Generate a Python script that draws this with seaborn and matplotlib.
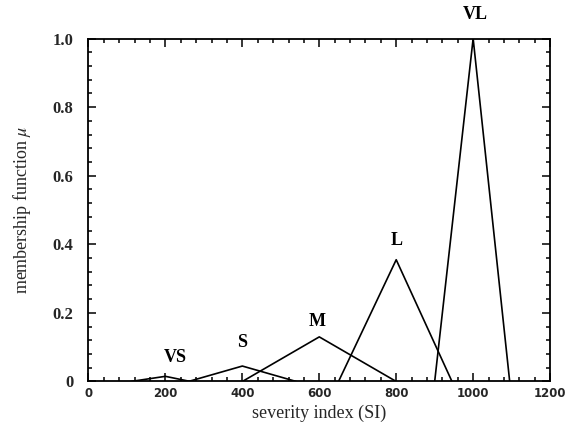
import matplotlib
matplotlib.use("Agg")
import matplotlib.pyplot as plt
from matplotlib.ticker import MultipleLocator, FixedLocator, FixedFormatter
import seaborn as sns
import pandas as pd

# Triangular membership functions of the severity index (SI)
sets = ["VS", "S", "M", "L", "VL"]
vs_x = [110, 200, 265]
vs_mu = [0.0, 0.015, 0.0]
s_x = [260, 400, 540]
s_mu = [0.0, 0.045, 0.0]
m_x = [400, 600, 800]
m_mu = [0.0, 0.13, 0.0]
l_x = [650, 800, 945]
l_mu = [0.0, 0.355, 0.0]
vl_x = [900, 1000, 1095]
vl_mu = [0.0, 1.0, 0.0]

# label anchor positions for each set name
label_x = [225, 400, 595, 800, 1005]
label_y = [0.07, 0.115, 0.175, 0.41, 1.07]

x_ticks = [0, 200, 400, 600, 800, 1000, 1200]
x_tick_labels = ["0", "200", "400", "600", "800", "1000", "1200"]
y_ticks = [0, 0.2, 0.4, 0.6, 0.8, 1.0]
y_tick_labels = ["0", "0.2", "0.4", "0.6", "0.8", "1.0"]

xs = [vs_x, s_x, m_x, l_x, vl_x]
mus = [vs_mu, s_mu, m_mu, l_mu, vl_mu]
df = pd.concat(
    [pd.DataFrame({"SI": x, "mu": mu, "set": name}) for name, x, mu in zip(sets, xs, mus)],
    ignore_index=True,
)

sns.set_style("ticks")
plt.rcParams["font.family"] = ["Liberation Serif", "DejaVu Serif"]
plt.rcParams["mathtext.fontset"] = "stix"

fig = plt.figure(figsize=(5.76, 4.25), dpi=100)
ax = fig.add_axes([0.1536, 0.1024, 0.8014, 0.807])

sns.lineplot(
    data=df, x="SI", y="mu", hue="set", palette=["black"] * len(sets),
    estimator=None, sort=False, legend=False, linewidth=1.2, ax=ax,
)

for name, lx, ly in zip(sets, label_x, label_y):
    ax.text(lx, ly, name, ha="center", va="center", fontsize=13,
            fontweight="bold", color="black", clip_on=False)

ax.set_xlim(0, 1200)
ax.set_ylim(0, 1.0)
ax.xaxis.set_major_locator(FixedLocator(x_ticks))
ax.xaxis.set_major_formatter(FixedFormatter(x_tick_labels))
ax.yaxis.set_major_locator(FixedLocator(y_ticks))
ax.yaxis.set_major_formatter(FixedFormatter(y_tick_labels))
ax.xaxis.set_minor_locator(MultipleLocator(40))
ax.yaxis.set_minor_locator(MultipleLocator(0.04))

ax.tick_params(which="both", direction="in", top=True, right=True,
               color="black", width=1.1)
ax.tick_params(which="major", length=6)
ax.tick_params(which="minor", length=3)
ax.tick_params(axis="y", which="major", pad=11, labelsize=12)
ax.tick_params(axis="x", which="major", pad=4)
for lab in ax.get_xticklabels():
    lab.set_fontfamily("DejaVu Sans")
    lab.set_fontweight("bold")
    lab.set_fontsize(8.5)
for lab in ax.get_yticklabels():
    lab.set_fontweight("bold")

for sp in ax.spines.values():
    sp.set_color("black")
    sp.set_linewidth(1.3)

ax.set_xlabel("severity index (SI)", fontsize=13, labelpad=3)
ax.set_ylabel("membership function $\\mu$", fontsize=13, labelpad=14)

fig.savefig("out.png", dpi=100)
